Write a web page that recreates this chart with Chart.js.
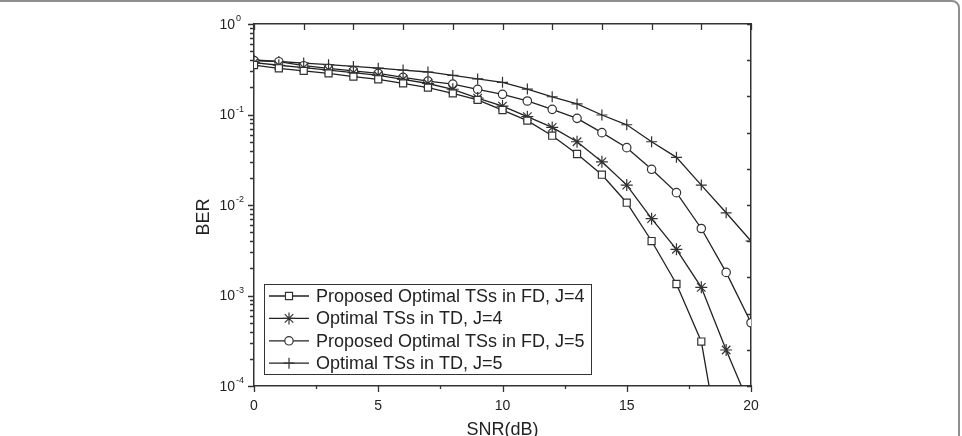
<!DOCTYPE html>
<html><head><meta charset="utf-8">
<script src="https://cdn.jsdelivr.net/npm/chart.js@4/dist/chart.umd.min.js"></script>
<style>
html,body{margin:0;padding:0;background:#fff;overflow:hidden}
#wrap{position:relative;width:962px;height:436px;overflow:hidden}
#frame{position:absolute;left:-20px;top:0;width:980px;height:520px;box-sizing:border-box;border:2px solid #8e8e8e;border-radius:8px;pointer-events:none}
canvas{display:block}
</style></head><body>
<div id="wrap"><canvas id="c" width="962" height="436"></canvas><div id="frame"></div></div>
<script>
// ---- data ----
const snr = [0,1,2,3,4,5,6,7,8,9,10,11,12,13,14,15,16,17,18,19,20];
const fdJ4 = [0.352,0.324,0.303,0.285,0.262,0.245,0.221,0.198,0.171,0.145,0.112,0.0855,0.0583,0.0366,0.0216,0.0106,0.0040,0.00134,0.00031,0.0000084,null];
const tdJ4 = [0.375,0.350,0.330,0.310,0.290,0.270,0.245,0.220,0.190,0.152,0.124,0.0946,0.072,0.050,0.030,0.0166,0.00706,0.00324,0.00123,0.00025,0.000056];
const fdJ5 = [0.395,0.383,0.346,0.324,0.303,0.285,0.257,0.234,0.217,0.190,0.167,0.141,0.114,0.0907,0.063,0.043,0.0248,0.0137,0.0055,0.0018,0.0005];
const tdJ5 = [0.400,0.385,0.370,0.355,0.340,0.325,0.310,0.295,0.270,0.247,0.227,0.191,0.157,0.131,0.0987,0.077,0.050,0.0336,0.0166,0.0082,0.0040];
const seriesLabels = ['Proposed Optimal TSs in FD, J=4','Optimal TSs in TD, J=4','Proposed Optimal TSs in FD, J=5','Optimal TSs in TD, J=5'];
const xTickLabels = [0,5,10,15,20];
const yExponents = [0,-1,-2,-3,-4];
const xTitle = 'SNR(dB)';
const yTitle = 'BER';

const FONT = '"Liberation Sans", Arial, Helvetica, sans-serif';
const INK = '#222';

function ds(label, data, style, radius){
  return {label, data: snr.map((x,i)=>({x, y:data[i]})), borderColor:INK, borderWidth:1.3,
    pointStyle:style, pointRadius:radius, pointBorderColor:'#333', pointBackgroundColor:'#fff',
    pointBorderWidth:1.2, tension:0, clip:0, spanGaps:false};
}

const deco = {
  id:'deco',
  afterDraw(chart){
    const ctx = chart.ctx, a = chart.chartArea;
    const x = chart.scales.x, y = chart.scales.y, x2 = chart.scales.x2, y2 = chart.scales.y2;
    ctx.save();
    ctx.strokeStyle = '#333'; ctx.lineWidth = 1.3;
    ctx.beginPath();
    // bottom ticks (outward), major every 5, minor every 2.5
    for (let v = 0; v <= 20.001; v += 2.5) {
      const px = Math.round(x.getPixelForValue(v)) + 0.5;
      const len = (Math.abs(v % 5) < 1e-6) ? 6 : 3;
      ctx.moveTo(px, a.bottom); ctx.lineTo(px, a.bottom + len);
    }
    // top ticks (inward)
    x2.ticks.forEach(t => {
      const px = Math.round(x2.getPixelForValue(t.value)) + 0.5;
      ctx.moveTo(px, a.top); ctx.lineTo(px, a.top + 6);
    });
    // left ticks (outward), log minors
    for (let e = -4; e <= 0; e++) {
      for (let m = 1; m <= 9; m++) {
        const v = m * Math.pow(10, e);
        if (v > 1.0000001) break;
        const py = Math.round(y.getPixelForValue(v)) + 0.5;
        const len = m === 1 ? 6 : 4;
        ctx.moveTo(a.left, py); ctx.lineTo(a.left - len, py);
      }
    }
    // right ticks (inward)
    y2.ticks.forEach(t => {
      const py = Math.round(y2.getPixelForValue(t.value)) + 0.5;
      ctx.moveTo(a.right, py); ctx.lineTo(a.right - 4, py);
    });
    ctx.stroke();

    // tick labels
    ctx.fillStyle = INK;
    ctx.font = '14px ' + FONT;
    ctx.textAlign = 'center'; ctx.textBaseline = 'middle';
    xTickLabels.forEach(v => ctx.fillText(String(v), x.getPixelForValue(v), a.bottom + 20));
    yExponents.forEach(e => {
      const py = y.getPixelForValue(Math.pow(10, e));
      ctx.font = '14px ' + FONT; ctx.textAlign = 'right'; ctx.textBaseline = 'middle';
      ctx.fillText('10', a.left - 19, py + 1);
      ctx.font = '9px ' + FONT; ctx.textAlign = 'left';
      ctx.fillText(String(e), a.left - 18, py - 5);
    });

    // axis titles
    ctx.font = '18px ' + FONT;
    ctx.textAlign = 'center'; ctx.textBaseline = 'alphabetic';
    ctx.fillText(xTitle, (a.left + a.right) / 2, 435);
    ctx.save();
    ctx.translate(209, 217); ctx.rotate(-Math.PI / 2);
    ctx.fillText(yTitle, 0, 0);
    ctx.restore();

    // legend box
    const L = {x:264, y:284, w:327, h:90};
    ctx.fillStyle = '#fff';
    ctx.fillRect(L.x, L.y, L.w, L.h);
    ctx.lineWidth = 1; ctx.strokeStyle = '#333';
    ctx.strokeRect(L.x + 0.5, L.y + 0.5, L.w, L.h);
    chart.data.datasets.forEach((d, i) => {
      const yy = 296 + i * 22.4;
      ctx.strokeStyle = INK; ctx.lineWidth = 1.3;
      ctx.beginPath(); ctx.moveTo(269, yy); ctx.lineTo(309, yy); ctx.stroke();
      ctx.fillStyle = '#fff'; ctx.strokeStyle = '#333'; ctx.lineWidth = 1.2;
      if (Chart.helpers && Chart.helpers.drawPoint) {
        Chart.helpers.drawPoint(ctx, {pointStyle:d.pointStyle, radius:d.pointRadius, rotation:0, borderWidth:1.2}, 289, yy);
      }
      ctx.fillStyle = INK; ctx.font = '18px ' + FONT;
      ctx.textAlign = 'left'; ctx.textBaseline = 'middle';
      ctx.fillText(d.label, 316, yy + 1);
    });
    ctx.restore();
  }
};

const hiddenAxis = (extra) => Object.assign({
  display:true, grid:{display:false, drawTicks:false}, ticks:{display:false},
  border:{display:true, color:'#333', width:1.5}, title:{display:false}
}, extra);

new Chart(document.getElementById('c'), {
  type:'line',
  data:{ datasets:[
    ds(seriesLabels[0], fdJ4, 'rect', 5),
    ds(seriesLabels[1], tdJ4, 'star', 6),
    ds(seriesLabels[2], fdJ5, 'circle', 4.2),
    ds(seriesLabels[3], tdJ5, 'cross', 5.5)
  ]},
  options:{
    responsive:false, animation:false, devicePixelRatio:1,
    layout:{padding:{left:254, right:211, top:24, bottom:50}},
    plugins:{legend:{display:false}, tooltip:{enabled:false}},
    scales:{
      x: hiddenAxis({type:'linear', position:'bottom', min:0, max:20}),
      x2: hiddenAxis({type:'linear', position:'top', min:0, max:20, ticks:{display:false, stepSize:2}}),
      y: hiddenAxis({type:'logarithmic', position:'left', min:1e-4, max:1}),
      y2: hiddenAxis({type:'linear', position:'right', min:0, max:10, ticks:{display:false, stepSize:1}})
    }
  },
  plugins:[deco]
});
</script>
</body></html>
